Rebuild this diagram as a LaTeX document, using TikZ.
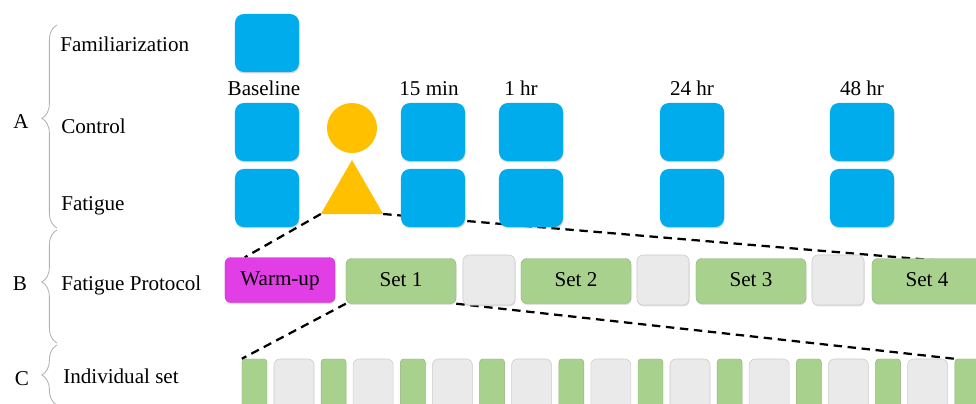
\documentclass[tikz,border=0pt]{standalone}
\usepackage{fontspec}
\setmainfont{Liberation Serif}
\usetikzlibrary{shapes.geometric, decorations.pathreplacing, backgrounds, shadows}

\definecolor{testblue}{RGB}{0,172,236}
\definecolor{warmpink}{RGB}{226,62,230}
\definecolor{setgreen}{RGB}{169,209,142}
\definecolor{restgray}{RGB}{234,234,234}
\definecolor{cuegold}{RGB}{255,192,0}

\begin{document}
\begin{tikzpicture}[
    x=0.025cm, y=-0.025cm,
    txt/.style={font=\fontsize{15}{18}\selectfont},
    rowlabel/.style={txt, anchor=base west, inner sep=0pt},
    timelabel/.style={txt, anchor=base},
    test/.style={fill=testblue, rounded corners=0.22cm, minimum width=1.6cm,
                 minimum height=1.45cm, inner sep=0pt,
                 drop shadow={shadow xshift=0.4pt, shadow yshift=-1pt, opacity=0.3}},
    cue/.style={fill=cuegold, inner sep=0pt, outer sep=0pt},
    phase/.style={txt, rounded corners=0.15cm, minimum width=2.75cm,
                  minimum height=1.125cm, inner sep=0pt, text height=0.82em, text depth=0pt,
                  draw=#1!85!black, line width=0.3pt,
                  fill=#1, drop shadow={shadow xshift=0.4pt, shadow yshift=-1pt, opacity=0.25}},
    rest/.style={rounded corners=0.15cm, minimum width=1.3cm, minimum height=1.25cm,
                 inner sep=0pt, fill=restgray, draw=gray!40, line width=0.4pt,
                 drop shadow={shadow xshift=0.4pt, shadow yshift=-1pt, opacity=0.25}},
    rep/.style={rounded corners=0.08cm, minimum width=0.625cm, minimum height=1.5cm,
                inner sep=0pt, fill=setgreen, draw=setgreen!85!black, line width=0.3pt},
    pause/.style={rounded corners=0.15cm, minimum width=1cm, minimum height=1.5cm,
                  inner sep=0pt, fill=restgray, draw=gray!40, line width=0.4pt},
    brace/.style={decorate, draw=gray!60, line width=0.6pt,
                  decoration={brace, amplitude=0.38cm, aspect=#1}},
    link/.style={draw=black, line width=1.6pt, dash pattern=on 6pt off 4pt}
  ]
  \useasboundingbox (0,0) rectangle (976,403);

  % Braces and section letters
  \draw[brace=0.54] (57,228) -- (57,25);
  \draw[brace=0.54] (57,343) -- (57,230);
  \draw[brace=0.5]  (57,405) -- (57,345);
  \node[timelabel] (secA) at (21,128) {A};
  \node[timelabel] (secB) at (20,290) {B};
  \node[timelabel] (secC) at (22,385) {C};

  % Row labels
  \node[rowlabel] (famlab) at (60,51)  {Familiarization};
  \node[rowlabel] (ctllab) at (61,133) {Control};
  \node[rowlabel] (fatlab) at (61,210) {Fatigue};
  \node[rowlabel] (prolab) at (61,290) {Fatigue Protocol};
  \node[rowlabel] (setlab) at (63,383) {Individual set};

  % Test sessions (A)
  \node[test] (fam) at (267,43) {};
  \foreach \t/\x/\lx/\lab in {base/267/264/Baseline, m15/433/429/15 min,
                              h1/531/521/1 hr, h24/692/692/24 hr, h48/862/862/48 hr} {
    \node[timelabel] (lab-\t) at (\lx,95) {\lab};
    \node[test] (ctl-\t) at (\x,132) {};
    \node[test] (fat-\t) at (\x,198) {};
  }
  \node[cue, circle, minimum size=1.25cm] (circ) at (352,128) {};
  \node[cue, regular polygon, regular polygon sides=3, minimum size=1.8cm] (tri) at (352,196) {};

  % Fatigue protocol (B)
  \node[phase=warmpink] (warm) at (280,280) {Warm-up};
  \foreach \i/\x in {1/401, 2/576, 3/751, 4/927}
    \node[phase=setgreen] (set\i) at (\x,281) {Set \i};
  \foreach \i/\x in {1/489, 2/663, 3/838}
    \node[rest] (rest\i) at (\x,280) {};

  % Individual set (C)
  \foreach \i in {0,...,9}
    \node[rep] (c\i) at ({254.5+79.2*\i},389) {};
  \foreach \i in {0,...,8}
    \node[pause] (p\i) at ({294+79.2*\i},389) {};

  % Zoom lines
  \begin{scope}[on background layer]
    \draw[link] (tri.corner 2) -- ([xshift=0.5cm]warm.north west);
    \draw[link] (tri.corner 3) -- ([yshift=-0.15cm]set4.north east);
    \draw[link] (set1.south west) -- (c0.north west);
    \draw[link] (set1.south east) -- (c9.north west);
  \end{scope}
\end{tikzpicture}
\end{document}
